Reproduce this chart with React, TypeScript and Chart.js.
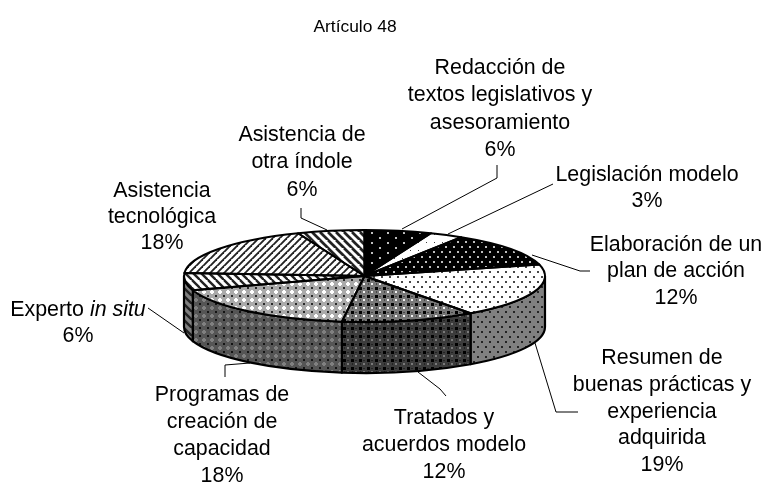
import React, { useEffect, useRef } from "react";
import { Chart, registerables } from "chart.js";

Chart.register(...registerables);

const titleText = "Artículo 48";
const categories = [
  "Redacción de textos legislativos y asesoramiento",
  "Legislación modelo",
  "Elaboración de un plan de acción",
  "Resumen de buenas prácticas y experiencia adquirida",
  "Tratados y acuerdos modelo",
  "Programas de creación de capacidad",
  "Experto in situ",
  "Asistencia tecnológica",
  "Asistencia de otra índole",
];
const values = [6, 3, 12, 19, 12, 18, 6, 18, 6];
const patternKinds = ["blackDots", "sparse", "denseDots", "whiteDots", "latticeDark", "latticeLight", "stripeBack", "stripeFwd", "stripeBackWide"];

const FONT = '"Liberation Sans", Arial, sans-serif';
const LABEL_PX = 21.4;
const CX = 364.5, CY = 276, RX = 180.5, RY = 46, DEPTH = 51;

type Seg = { t: string; i?: boolean };
const labels: { x: number; ys: number[]; lines: (string | Seg[])[] }[] = [
  { x: 500, ys: [68, 95, 123, 150], lines: ["Redacción de", "textos legislativos y", "asesoramiento", "6%"] },
  { x: 647, ys: [175, 201], lines: ["Legislación modelo", "3%"] },
  { x: 676, ys: [245, 271, 298], lines: ["Elaboración de un", "plan de acción", "12%"] },
  { x: 662, ys: [358, 385, 412, 438, 465], lines: ["Resumen de", "buenas prácticas y", "experiencia", "adquirida", "19%"] },
  { x: 444, ys: [418, 445, 472], lines: ["Tratados y", "acuerdos modelo", "12%"] },
  { x: 222, ys: [395, 422, 449, 476], lines: ["Programas de", "creación de", "capacidad", "18%"] },
  { x: 78, ys: [310, 336], lines: [[{ t: "Experto " }, { t: "in situ", i: true }], "6%"] },
  { x: 162, ys: [191, 217, 243], lines: ["Asistencia", "tecnológica", "18%"] },
  { x: 302, ys: [135, 162, 190], lines: ["Asistencia de", "otra índole", "6%"] },
];
const leaders: number[][][] = [
  [[497, 165], [497, 178], [402, 229]],
  [[553, 184], [448, 234]],
  [[532, 255], [580, 271], [590, 271]],
  [[535, 343], [556, 412], [578, 412]],
  [[418, 372], [440, 389], [446, 396]],
  [[225, 377], [225, 365], [250, 363]],
  [[148, 308], [184, 333]],
  [[301, 208], [301, 218], [327, 230]],
];

function gray(v: number) {
  const c = Math.round(v);
  return `rgb(${c},${c},${c})`;
}

function makeTile(kind: string, shade: number): CanvasPattern {
  const size: Record<string, [number, number]> = {
    blackDots: [16, 10], sparse: [8, 8], denseDots: [8, 10], whiteDots: [8, 10],
    latticeDark: [8, 8], latticeLight: [8, 8], stripeBack: [8, 8], stripeFwd: [7, 7], stripeBackWide: [8, 8],
  };
  const [w, h] = size[kind];
  const c = document.createElement("canvas");
  c.width = w; c.height = h;
  const g = c.getContext("2d")!;
  const L = 255 * shade;
  const fill = (v: number) => { g.fillStyle = gray(v); g.fillRect(0, 0, w, h); };
  const px = (x: number, y: number, ww: number, hh: number, v: number) => { g.fillStyle = gray(v); g.fillRect(x, y, ww, hh); };
  const dots = (bg: number, fg: number) => {
    fill(bg);
    px(1, 1, 2, 2, fg); px(5, 6, 2, 2, fg);
  };
  const stripes = (period: number, width: number, dir: number) => {
    fill(L);
    g.strokeStyle = "#222"; g.lineWidth = width;
    for (let k = -2; k <= 3; k++) {
      g.beginPath();
      if (dir > 0) { g.moveTo(k * period - period, period * 2); g.lineTo(k * period + period, 0); }
      else { g.moveTo(k * period - period, 0); g.lineTo(k * period + period, period * 2); }
      g.stroke();
    }
  };
  switch (kind) {
    case "blackDots": fill(0); px(3, 2, 2, 2, 190 * shade); px(11, 7, 2, 2, 190 * shade); break;
    case "sparse": fill(L); px(2, 2, 1, 1, 60); break;
    case "denseDots": dots(0, 190 * shade); break;
    case "whiteDots": dots(L, 70 * shade); break;
    case "latticeDark":
      fill(120 * shade);
      px(3, 3, 2, 2, L * 0.95);
      px(0, 0, 2, 2, 0); px(7, 0, 1, 2, 0); px(0, 7, 2, 1, 0); px(7, 7, 1, 1, 0);
      px(3, 0, 2, 1, 70 * shade); px(0, 3, 1, 2, 70 * shade);
      break;
    case "latticeLight":
      fill(170 * shade);
      px(3, 2, 2, 4, L); px(2, 3, 4, 2, L);
      px(0, 0, 1, 1, 40 * shade); px(7, 0, 1, 1, 40 * shade); px(0, 7, 1, 1, 40 * shade); px(7, 7, 1, 1, 40 * shade);
      break;
    case "stripeBack": stripes(8, 2.4, -1); break;
    case "stripeFwd": stripes(7, 1.9, 1); break;
    case "stripeBackWide": stripes(8, 2.7, -1); break;
  }
  return g.createPattern(c, "repeat")!;
}

export default function App() {
  const ref = useRef<HTMLCanvasElement>(null);
  useEffect(() => {
    document.body.style.margin = "0";
    const topPatterns = patternKinds.map((k) => makeTile(k, 1));
    const sidePatterns = patternKinds.map((k) => makeTile(k, 0.5));

    const pie3d = {
      id: "pie3d",
      beforeDatasetsDraw(chart: any) {
        const ctx: CanvasRenderingContext2D = chart.ctx;
        const arcs = chart.getDatasetMeta(0).data;
        ctx.save();
        ctx.lineWidth = 2.2;
        ctx.strokeStyle = "#000";
        ctx.lineJoin = "round";
        arcs.forEach((a: any, i: number) => {
          const t0 = Math.max(a.startAngle, 0);
          const t1 = Math.min(a.endAngle, Math.PI);
          if (t1 <= t0) return;
          sidePatterns[i].setTransform(new DOMMatrix());
          ctx.fillStyle = sidePatterns[i];
          ctx.beginPath();
          ctx.ellipse(CX, CY, RX, RY, 0, t0, t1);
          ctx.ellipse(CX, CY + DEPTH, RX, RY, 0, t1, t0, true);
          ctx.closePath();
          ctx.fill();
          ctx.stroke();
        });
        ctx.restore();
        const a0 = arcs[0];
        const R = a0.outerRadius;
        ctx.save();
        ctx.translate(CX, CY);
        ctx.scale(RX / R, RY / R);
        ctx.translate(-a0.x, -a0.y);
        const inv = ctx.getTransform().inverse();
        topPatterns.forEach((p) => p.setTransform(inv));
      },
      afterDatasetsDraw(chart: any) {
        const ctx: CanvasRenderingContext2D = chart.ctx;
        ctx.restore();
        const arcs = chart.getDatasetMeta(0).data;
        ctx.save();
        ctx.lineWidth = 2;
        ctx.strokeStyle = "#000";
        ctx.lineJoin = "round";
        arcs.forEach((a: any) => {
          ctx.beginPath();
          ctx.moveTo(CX, CY);
          ctx.ellipse(CX, CY, RX, RY, 0, a.startAngle, a.endAngle);
          ctx.closePath();
          ctx.stroke();
        });
        ctx.restore();
      },
      afterDraw(chart: any) {
        const ctx: CanvasRenderingContext2D = chart.ctx;
        ctx.save();
        ctx.strokeStyle = "#000";
        ctx.lineWidth = 1;
        leaders.forEach((pts) => {
          ctx.beginPath();
          pts.forEach(([x, y], i) => (i ? ctx.lineTo(x, y) : ctx.moveTo(x, y)));
          ctx.stroke();
        });
        ctx.fillStyle = "#000";
        ctx.textBaseline = "middle";
        labels.forEach((lb) => {
          lb.lines.forEach((ln, i) => {
            const segs: Seg[] = typeof ln === "string" ? [{ t: ln }] : ln;
            const fontOf = (s: Seg) => `${s.i ? "italic " : ""}${LABEL_PX}px ${FONT}`;
            let total = 0;
            segs.forEach((s) => { ctx.font = fontOf(s); total += ctx.measureText(s.t).width; });
            let x = lb.x - total / 2;
            ctx.textAlign = "left";
            segs.forEach((s) => {
              ctx.font = fontOf(s);
              ctx.fillText(s.t, x, lb.ys[i]);
              x += ctx.measureText(s.t).width;
            });
          });
        });
        ctx.restore();
      },
    };

    const chart = new Chart(ref.current!, {
      type: "pie",
      data: {
        labels: categories,
        datasets: [{ data: values, backgroundColor: topPatterns, borderWidth: 0, clip: false } as any],
      },
      options: {
        responsive: false,
        animation: false,
        events: [],
        layout: { padding: { right: 53 } },
        plugins: {
          legend: { display: false },
          tooltip: { enabled: false },
          title: {
            display: true,
            text: titleText,
            color: "#000",
            font: { family: FONT, size: 17.4, weight: "normal" },
            padding: { top: 17, bottom: 10 },
          },
        },
      },
      plugins: [pie3d],
    } as any);
    return () => chart.destroy();
  }, []);
  return <canvas ref={ref} width={763} height={482} style={{ display: "block" }} />;
}
